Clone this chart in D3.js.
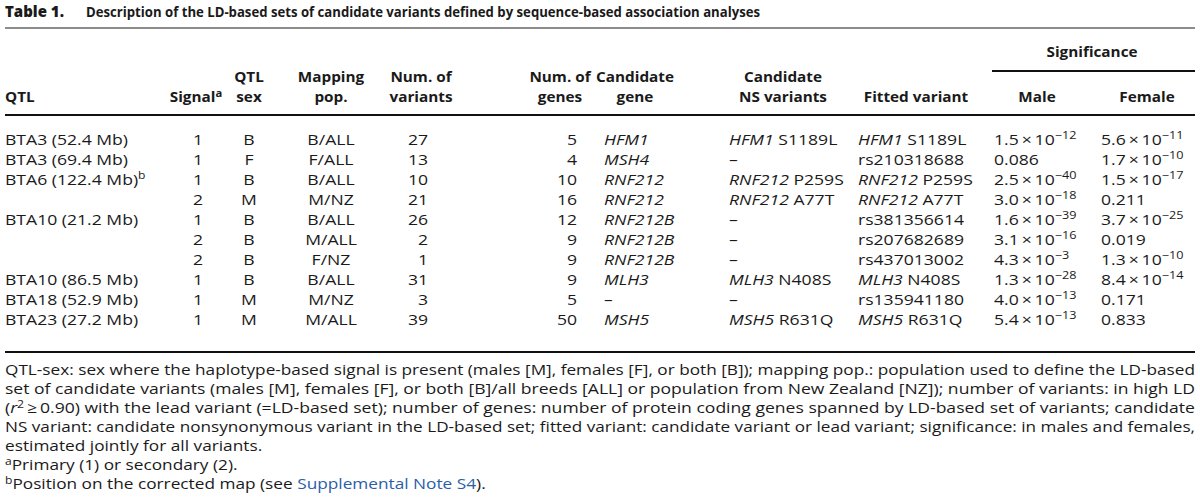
<!DOCTYPE html>
<html>
<head>
<meta charset="utf-8">
<script src="https://cdn.jsdelivr.net/npm/d3@7"></script>
<style>
  body { margin: 0; background: #fff; }
  svg text { font-family: "Open Sans", "Noto Sans", sans-serif; fill: #1a1a1a; }
</style>
</head>
<body>
<div id="my_table"></div>
<script>
// table values
const qtl = ["BTA3 (52.4 Mb)", "BTA3 (69.4 Mb)", "BTA6 (122.4 Mb)", "", "BTA10 (21.2 Mb)", "", "", "BTA10 (86.5 Mb)", "BTA18 (52.9 Mb)", "BTA23 (27.2 Mb)"]
const qtlMark = ["", "", "b", "", "", "", "", "", "", ""]
const signal = [1, 1, 1, 2, 1, 2, 2, 1, 1, 1]
const qtlSex = ["B", "F", "B", "M", "B", "B", "B", "B", "M", "M"]
const mappingPop = ["B/ALL", "F/ALL", "B/ALL", "M/NZ", "B/ALL", "M/ALL", "F/NZ", "B/ALL", "M/NZ", "M/ALL"]
const numVariants = [27, 13, 10, 21, 26, 2, 1, 31, 3, 39]
const numGenes = [5, 4, 10, 16, 12, 9, 9, 9, 5, 50]
const candidateGene = ["HFM1", "MSH4", "RNF212", "RNF212", "RNF212B", "RNF212B", "RNF212B", "MLH3", "", "MSH5"]
const nsVariant = ["S1189L", "", "P259S", "A77T", "", "", "", "N408S", "", "R631Q"]
const fittedRs = ["", "rs210318688", "", "", "rs381356614", "rs207682689", "rs437013002", "", "rs135941180", ""]
const sigMale = [1.5e-12, 0.086, 2.5e-40, 3.0e-18, 1.6e-39, 3.1e-16, 4.3e-3, 1.3e-28, 4.0e-13, 5.4e-13]
const sigFemale = [5.6e-11, 1.7e-10, 1.5e-17, 0.211, 3.7e-25, 0.019, 1.3e-10, 8.4e-14, 0.171, 0.833]

const title = "Description of the LD-based sets of candidate variants defined by sequence-based association analyses"
const footLines = [
  "QTL-sex: sex where the haplotype-based signal is present (males [M], females [F], or both [B]); mapping pop.: population used to define the LD-based",
  "set of candidate variants (males [M], females [F], or both [B]/all breeds [ALL] or population from New Zealand [NZ]); number of variants: in high LD",
  " with the lead variant (=LD-based set); number of genes: number of protein coding genes spanned by LD-based set of variants; candidate",
  "NS variant: candidate nonsynonymous variant in the LD-based set; fitted variant: candidate variant or lead variant; significance: in males and females,",
  "estimated jointly for all variants."
]

var width = 1200, height = 501
var fs = 15.3
var k = 1.15   // the picture is a bit stretched sideways

var svg = d3.select("#my_table")
  .append("svg")
    .attr("width", width)
    .attr("height", height)

// a text placed at x,y and widened by sx
function txt(g, x, y, anchor, sx) {
  return g.append("text")
    .attr("transform", "translate(" + x + "," + y + ") scale(" + (sx || k) + ",1)")
    .attr("text-anchor", anchor || "start")
}
function sup(s, v, size) {
  s.append("tspan").attr("dy", -5.5).style("font-size", (size || 10.5) + "px").text(v)
}

// title
svg.append("text").attr("x", 5).attr("y", 17)
  .style("font-size", "15px").style("font-weight", "800").text("Table 1.")
svg.append("text").attr("x", 86).attr("y", 17)
  .style("font-size", "14.3px").style("font-weight", "bold")
  .attr("textLength", 674).attr("lengthAdjust", "spacingAndGlyphs")
  .text(title)

// rules
function rule(y, x1, x2, w, c) {
  svg.append("line").attr("x1", x1).attr("x2", x2).attr("y1", y).attr("y2", y)
    .attr("stroke", c).attr("stroke-width", w)
}
rule(28, 5, 1195, 1.5, "#666")
rule(71, 992, 1195, 2, "#111")
rule(115, 5, 1195, 2, "#111")
rule(352, 5, 1195, 2, "#111")

// header
var header = svg.append("g").style("font-weight", "bold").style("font-size", "15px")
function head(x, lines, anchor, yLast) {
  yLast = yLast || 102
  lines.forEach(function(l, i) {
    txt(header, x, yLast - (lines.length - 1 - i) * 20, anchor || "middle", 1.02).text(l)
  })
}
head(5, ["QTL"], "start")
var sh = txt(header, 196, 102, "middle", 1.02)
sh.append("tspan").text("Signal")
sup(sh, "a", 11)
head(249, ["QTL", "sex"])
head(331, ["Mapping", "pop."])
head(421, ["Num. of", "variants"])
head(560, ["Num. of", "genes"])
head(635, ["Candidate", "gene"])
head(783, ["Candidate", "NS variants"])
head(916, ["Fitted variant"])
head(1092, ["Significance"], "middle", 57)
head(1037, ["Male"])
head(1147, ["Female"])

// rows
var rows = d3.range(qtl.length)
var y = d3.scalePoint().domain(rows).range([144.5, 324.5])

var body = svg.append("g").style("font-size", fs + "px")

function col(x, anchor, fill) {
  rows.forEach(function(i) {
    fill(txt(body, x, y(i), anchor), i)
  })
}

col(5, "start", function(s, i) {
  s.append("tspan").text(qtl[i])
  if (qtlMark[i]) sup(s, qtlMark[i])
})
col(198, "middle", function(s, i) { s.text(signal[i]) })
col(249, "middle", function(s, i) { s.text(qtlSex[i]) })
col(331, "middle", function(s, i) { s.text(mappingPop[i]) })
col(428, "end", function(s, i) { s.text(numVariants[i]) })
col(577, "end", function(s, i) { s.text(numGenes[i]) })
col(604, "start", function(s, i) {
  if (candidateGene[i]) s.append("tspan").style("font-style", "italic").text(candidateGene[i])
  else s.text("–")
})
col(729, "start", function(s, i) {
  if (nsVariant[i]) {
    s.append("tspan").style("font-style", "italic").text(candidateGene[i])
    s.append("tspan").text(" " + nsVariant[i])
  } else s.text("–")
})
col(858, "start", function(s, i) {
  if (fittedRs[i]) s.text(fittedRs[i])
  else {
    s.append("tspan").style("font-style", "italic").text(candidateGene[i])
    s.append("tspan").text(" " + nsVariant[i])
  }
})

function sig(s, v) {
  if (v >= 0.01) { s.text(String(v)); return }
  var e = Math.floor(Math.log10(v))
  var m = (v / Math.pow(10, e)).toFixed(1)
  s.append("tspan").text(m + "\u2009×\u200910")
  s.append("tspan").attr("dy", -6).style("font-size", "11px").text("\u2212" + (-e))
}
col(994, "start", function(s, i) { sig(s, sigMale[i]) })
col(1101, "start", function(s, i) { sig(s, sigFemale[i]) })

// footnotes
var foot = svg.append("g").style("font-size", "15px")
var fy = d3.scalePoint().domain(d3.range(7)).range([375, 489])
footLines.forEach(function(l, i) {
  var tx = txt(foot, 5, fy(i))
  if (i == 2) {
    tx.append("tspan").text("(")
    tx.append("tspan").style("font-style", "italic").text("r")
    sup(tx, "2")
    tx.append("tspan").attr("dy", 5.5).text("\u2009≥\u20090.90)" + l)
  } else tx.text(l)
  if (i < 4) tx.attr("textLength", 1190 / k).attr("lengthAdjust", "spacingAndGlyphs")
})
var fa = txt(foot, 5, fy(5))
sup(fa, "a")
fa.append("tspan").attr("dy", 5.5).text("Primary (1) or secondary (2).")
var fb = txt(foot, 5, fy(6))
sup(fb, "b")
fb.append("tspan").attr("dy", 5.5).text("Position on the corrected map (see ")
fb.append("tspan").style("fill", "#2b5ea7").text("Supplemental Note S4")
fb.append("tspan").text(").")
</script>
</body>
</html>
